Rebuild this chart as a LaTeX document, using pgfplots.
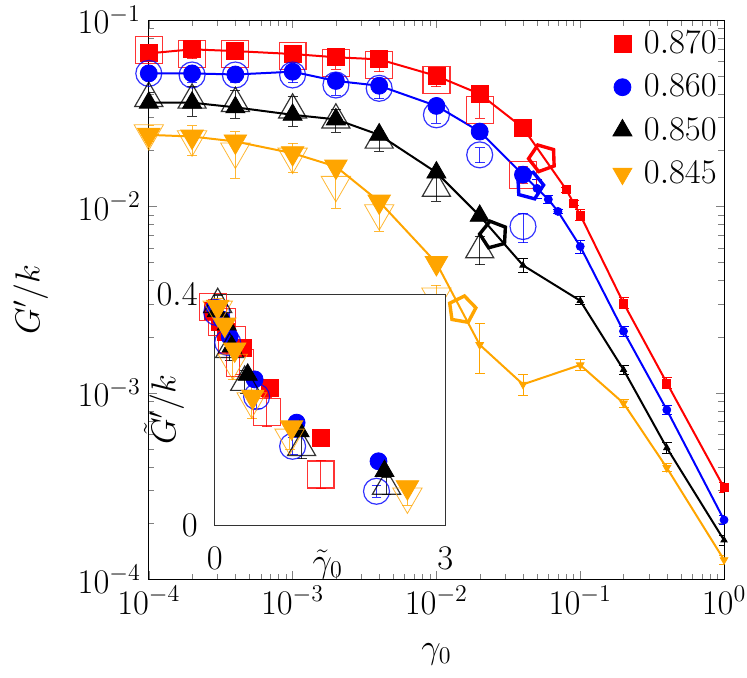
\documentclass[border=0pt]{standalone}
\usepackage{pgfplots}
\pgfplotsset{compat=1.18}
\newcommand\bigf{\fontsize{18}{21.6}\selectfont}
\definecolor{myorange}{RGB}{255,165,0}
\pgfplotsset{
  ebs/.style={error bars/y dir=both, error bars/y explicit relative,
    error bars/error bar style={line width=0.5pt},
    error bars/error mark options={rotate=90, mark size=2.5pt, line width=0.5pt}},
  eba/.style={error bars/y dir=both, error bars/y explicit,
    error bars/error bar style={line width=0.5pt},
    error bars/error mark options={rotate=90, mark size=2.5pt, line width=0.5pt}},
  openm/.style={only marks, mark options={line width=0.6pt, fill=none}, opacity=0.8},
}
\begin{document}
\begin{tikzpicture}
\path[use as bounding box] (-74.5pt,-49pt) rectangle (299.5pt,290pt);
\begin{axis}[
  at={(0,0)}, anchor=south west,
  scale only axis, width=288pt, height=280pt,
  xmode=log, ymode=log,
  xmin=1e-4, xmax=1, ymin=1e-4, ymax=1e-1,
  tick label style={font=\bigf},
  label style={font=\bigf},
  yticklabel style={xshift=-0.5pt},
  xlabel={$\gamma_0$}, ylabel={$G'/k$},
  xlabel style={at={(axis description cs:0.5,-0.134)}, anchor=center},
  ylabel style={at={(axis description cs:-0.205,0.5)}, anchor=center},
  legend style={draw=none, fill=none, at={(1,1)}, anchor=north east, font=\bigf,
    xshift=1.5pt, yshift=-1.5pt, row sep=5pt,
    /tikz/every odd column/.append style={column sep=4pt}},
  legend cell align=left,
]
% legend
\addlegendimage{only marks, red, mark=square*, mark size=4.25pt}
\addlegendentry{$0.870$}
\addlegendimage{only marks, blue, mark=*, mark size=4.25pt}
\addlegendentry{$0.860$}
\addlegendimage{only marks, black, mark=triangle*, mark size=5.5pt}
\addlegendentry{$0.850$}
\addlegendimage{only marks, myorange, mark=triangle*, mark size=5.5pt, mark options={rotate=180}}
\addlegendentry{$0.845$}

% ---------------- red 0.870 ----------------
\addplot[red, line width=1pt, no markers, forget plot] coordinates {
 (1e-4,0.0662) (2e-4,0.0696) (4e-4,0.0681) (1e-3,0.0657) (2e-3,0.0631) (4e-3,0.0615)
 (1e-2,0.0501) (2e-2,0.0401) (4e-2,0.0264) (0.08,0.0123) (0.09,0.0104) (0.1,0.0090)
 (0.2,0.00303) (0.4,0.00113) (1,0.00031)};
\addplot[red, openm, mark=square, mark size=6.75pt, ebs, forget plot] coordinates {
 (1e-4,0.069) +- (0,0.06) (2e-4,0.066) +- (0,0.06) (4e-4,0.0657) +- (0,0.07)
 (1e-3,0.0638) +- (0,0.07) (2e-3,0.059) +- (0,0.08) (4e-3,0.0573) +- (0,0.08)
 (1e-2,0.0477) +- (0,0.08) (2e-2,0.033) +- (0,0.1) (4e-2,0.0148) +- (0,0.1)};
\addplot[red, only marks, mark=square*, mark size=4.25pt, forget plot] coordinates {
 (1e-4,0.0662) (2e-4,0.0696) (4e-4,0.0681) (1e-3,0.0657) (2e-3,0.0631) (4e-3,0.0615)
 (1e-2,0.0501) (2e-2,0.0401) (4e-2,0.0264)};
\addplot[red, only marks, mark=square*, mark size=2pt, ebs, forget plot] coordinates {
 (0.08,0.0123) +- (0,0.03) (0.09,0.0104) +- (0,0.03) (0.1,0.0090) +- (0,0.07)
 (0.2,0.00303) +- (0,0.07) (0.4,0.00113) +- (0,0.07) (1,0.00031) +- (0,0.06)};
\addplot[red, only marks, mark=pentagon, mark size=7pt, mark options={line width=1.7pt, rotate=20}, forget plot]
 coordinates {(0.0547,0.01815)};

% ---------------- blue 0.860 ----------------
\addplot[blue, line width=1pt, no markers, forget plot] coordinates {
 (1e-4,0.0517) (2e-4,0.0517) (4e-4,0.051) (1e-3,0.0528) (2e-3,0.0471) (4e-3,0.0444)
 (1e-2,0.0346) (2e-2,0.0252) (4e-2,0.0148) (0.05,0.0125) (0.06,0.0109) (0.07,0.0094)
 (0.1,0.0061) (0.2,0.00214) (0.4,0.00081) (1,0.000208)};
\addplot[blue, openm, mark=o, mark size=6.5pt, ebs, forget plot] coordinates {
 (1e-4,0.0517) +- (0,0.07) (2e-4,0.0507) +- (0,0.09) (4e-4,0.0507) +- (0,0.09)
 (1e-3,0.0507) +- (0,0.09) (2e-3,0.0448) +- (0,0.12) (4e-3,0.043) +- (0,0.12)
 (1e-2,0.031) +- (0,0.1) (2e-2,0.0189) +- (0,0.09) (4e-2,0.0078) +- (0,0.18)};
\addplot[blue, only marks, mark=*, mark size=4.25pt, forget plot] coordinates {
 (1e-4,0.0517) (2e-4,0.0517) (4e-4,0.051) (1e-3,0.0528) (2e-3,0.0471) (4e-3,0.0444)
 (1e-2,0.0346) (2e-2,0.0252) (4e-2,0.0148)};
\addplot[blue, only marks, mark=*, mark size=2pt, ebs, forget plot] coordinates {
 (0.05,0.0125) +- (0,0.12) (0.06,0.0109) +- (0,0.05) (0.07,0.0094) +- (0,0.03)
 (0.1,0.0061) +- (0,0.08) (0.2,0.00214) +- (0,0.06) (0.4,0.00081) +- (0,0.06) (1,0.000208) +- (0,0.05)};
\addplot[blue, only marks, mark=pentagon, mark size=7pt, mark options={line width=1.7pt, rotate=-15}, forget plot]
 coordinates {(0.0445,0.0129)};

% ---------------- black 0.850 ----------------
\addplot[black, line width=1pt, no markers, forget plot] coordinates {
 (1e-4,0.036) (2e-4,0.036) (4e-4,0.034) (1e-3,0.031) (2e-3,0.0293) (4e-3,0.0242)
 (1e-2,0.0152) (2e-2,0.0089) (4e-2,0.00483) (0.1,0.00312) (0.2,0.00133) (0.4,0.000507) (1,0.000162)};
\addplot[black, openm, mark=triangle, mark size=8.1pt, ebs, forget plot] coordinates {
 (1e-4,0.038) +- (0,0.08) (2e-4,0.0372) +- (0,0.18) (4e-4,0.0357) +- (0,0.17)
 (1e-3,0.0329) +- (0,0.18) (2e-3,0.0291) +- (0,0.14) (4e-3,0.0227) +- (0,0.13)
 (1e-2,0.01253) +- (0,0.15) (2e-2,0.00586) +- (0,0.17)};
\addplot[black, only marks, mark=triangle*, mark size=5.5pt, forget plot] coordinates {
 (1e-4,0.036) (2e-4,0.036) (4e-4,0.034) (1e-3,0.031) (2e-3,0.0293) (4e-3,0.0242)
 (1e-2,0.0152) (2e-2,0.0089)};
\addplot[black, only marks, mark=triangle*, mark size=1.8pt, ebs, forget plot] coordinates {
 (4e-2,0.00483) +- (0,0.09) (0.1,0.00312) +- (0,0.05) (0.2,0.00133) +- (0,0.06)
 (0.4,0.000507) +- (0,0.07) (1,0.000162) +- (0,0.06)};
\addplot[black, only marks, mark=pentagon, mark size=7pt, mark options={line width=1.7pt, rotate=15}, forget plot]
 coordinates {(0.025,0.00705)};

% ---------------- orange 0.845 ----------------
\addplot[myorange, line width=1pt, no markers, forget plot] coordinates {
 (1e-4,0.0242) (2e-4,0.0237) (4e-4,0.0223) (1e-3,0.0193) (2e-3,0.01636) (4e-3,0.01062)
 (1e-2,0.00497) (2e-2,0.00181) (4e-2,0.00111) (0.1,0.00141) (0.2,0.00088) (0.4,0.000396) (1,0.000127)};
\addplot[myorange, openm, mark=triangle, mark size=8.5pt, mark options={rotate=180}, ebs, forget plot] coordinates {
 (1e-4,0.0247) +- (0,0.1) (2e-4,0.0229) +- (0,0.18) (4e-4,0.0197) +- (0,0.28)
 (1e-3,0.0185) +- (0,0.18) (2e-3,0.01305) +- (0,0.25) (4e-3,0.0092) +- (0,0.2)
 (1e-2,0.00329) +- (0,0.15)};
\addplot[myorange, only marks, mark=triangle*, mark size=6.5pt, mark options={rotate=180}, forget plot] coordinates {
 (1e-4,0.0242) (2e-4,0.0237) (4e-4,0.0223) (1e-3,0.0193) (2e-3,0.01636) (4e-3,0.01062)
 (1e-2,0.00497)};
\addplot[myorange, only marks, mark=triangle*, mark size=2.2pt, mark options={rotate=180}, ebs, forget plot] coordinates {
 (2e-2,0.00181) +- (0,0.3) (4e-2,0.00111) +- (0,0.13) (0.1,0.00141) +- (0,0.07)
 (0.2,0.00088) +- (0,0.05) (0.4,0.000396) +- (0,0.05) (1,0.000127) +- (0,0.06)};
\addplot[myorange, only marks, mark=pentagon, mark size=7pt, mark options={line width=1.7pt, rotate=-10}, forget plot]
 coordinates {(0.01507,0.00279)};
\end{axis}

% ---------------- inset ----------------
\begin{axis}[
  at={(33pt,27pt)}, anchor=south west,
  scale only axis, width=115.5pt, height=115.5pt,
  xmin=0, xmax=3, ymin=0, ymax=0.4,
  clip=false,
  axis background/.style={fill=white},
  axis line style={line width=0.5pt, black!80},
  xtick={0,3}, xticklabels={$0$,$3$},
  ytick={0,0.4}, yticklabels={$0$,$0.4$},
  major tick length=0pt,
  tick label style={font=\bigf},
  label style={font=\bigf},
  xticklabel style={yshift=-7.5pt},
  yticklabel style={xshift=-5pt},
  xlabel={$\tilde{\gamma}_0$}, ylabel={$\tilde{G}'/k$},
  xlabel style={at={(axis description cs:0.49,-0.17)}, anchor=center},
  ylabel style={at={(axis description cs:-0.22,0.5)}, anchor=center},
]
% red
\addplot[red, openm, mark=square, mark size=6.75pt, eba] coordinates {
 (-0.026,0.379) +- (0,0.012) (0.091,0.353) +- (0,0.012) (0.221,0.322) +- (0,0.015)
 (0.325,0.282) +- (0,0.02) (0.675,0.196) +- (0,0.025) (1.377,0.088) +- (0,0.025)};
\addplot[red, only marks, mark=square*, mark size=4.25pt] coordinates {
 (-0.026,0.371) (0.065,0.353) (0.143,0.336) (0.364,0.308) (0.714,0.239) (1.377,0.152)};
% blue
\addplot[blue, openm, mark=o, mark size=6.5pt, eba] coordinates {
 (0.026,0.369) +- (0,0.015) (0.169,0.317) +- (0,0.02) (0.545,0.223) +- (0,0.02)
 (1.013,0.137) +- (0,0.015) (2.104,0.059) +- (0,0.01)};
\addplot[blue, only marks, mark=*, mark size=4.25pt] coordinates {
 (0,0.377) (0.091,0.357) (0.195,0.327) (0.519,0.253) (1.065,0.178) (2.13,0.111)};
% black
\addplot[black, openm, mark=triangle, mark size=8.1pt, eba] coordinates {
 (0.039,0.383) +- (0,0.015) (0.195,0.305) +- (0,0.02) (0.39,0.248) +- (0,0.02)
 (1.13,0.135) +- (0,0.02) (2.234,0.068) +- (0,0.015)};
\addplot[black, only marks, mark=triangle*, mark size=5.5pt] coordinates {
 (0.026,0.371) (0.156,0.348) (0.221,0.31) (0.429,0.261) (1.104,0.163) (2.208,0.094)};
% orange
\addplot[myorange, openm, mark=triangle, mark size=8.5pt, mark options={rotate=180}, eba] coordinates {
 (0.039,0.374) +- (0,0.02) (0.234,0.282) +- (0,0.03) (0.481,0.215) +- (0,0.03)
 (0.974,0.152) +- (0,0.02) (2.506,0.05) +- (0,0.015)};
\addplot[myorange, only marks, mark=triangle*, mark size=6.5pt, mark options={rotate=180}] coordinates {
 (0.039,0.379) (0.13,0.348) (0.26,0.305) (0.494,0.223) (1.0,0.17) (2.506,0.066)};
\end{axis}
\end{tikzpicture}
\end{document}
